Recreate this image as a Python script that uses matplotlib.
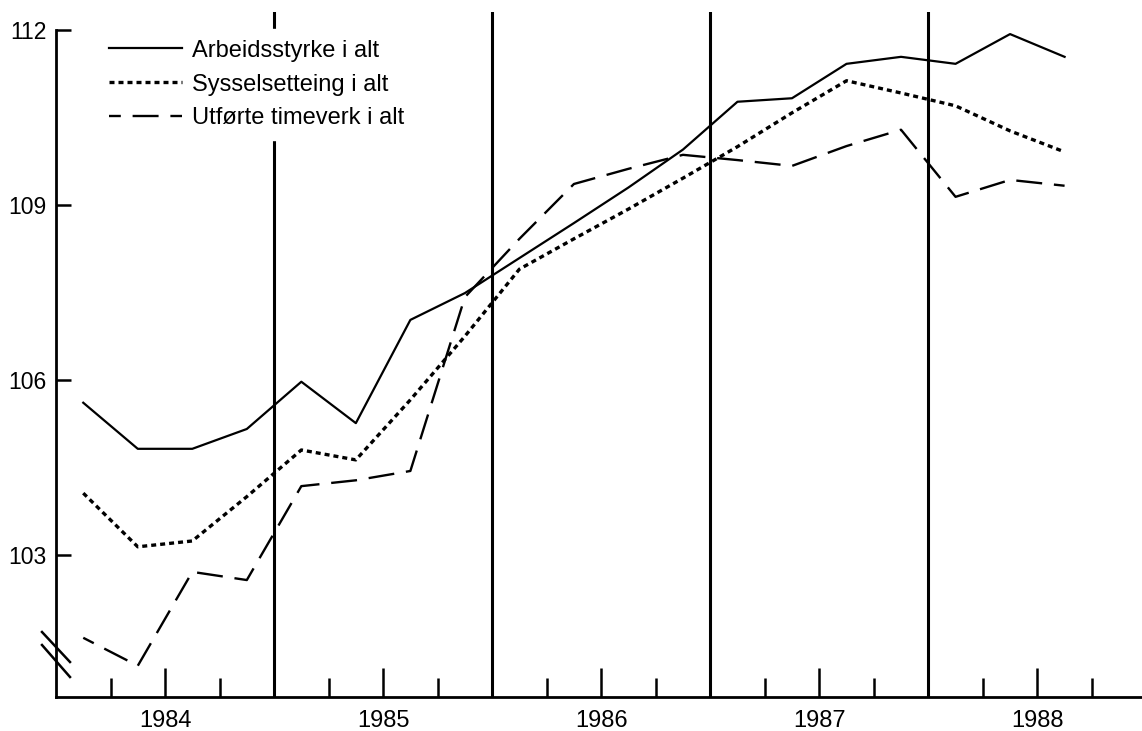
import matplotlib
matplotlib.use("Agg")
import numpy as np
import matplotlib.pyplot as plt
from matplotlib.lines import Line2D

plt.rcParams['font.family'] = ['Liberation Sans', 'DejaVu Sans']

# Quarterly index values, 1984 K1 - 1988 K3
years = [1984] * 4 + [1985] * 4 + [1986] * 4 + [1987] * 4 + [1988] * 3
quarter = [1, 2, 3, 4] * 4 + [1, 2, 3]

arbeidsstyrke = [105.61, 104.82, 104.82, 105.16, 105.97, 105.26, 107.03, 107.49,
                 108.09, 108.69, 109.3, 109.95, 110.77, 110.83, 111.42, 111.54,
                 111.42, 111.93, 111.54]
sysselsetting = [104.06, 103.14, 103.24, 104.0, 104.8, 104.63, 105.66, 106.75,
                 107.9, 108.42, 108.93, 109.46, 110.0, 110.58, 111.13, 110.92,
                 110.7, 110.27, 109.91]
timeverk = [101.58, 101.1, 102.71, 102.57, 104.18, 104.28, 104.44, 107.42,
            108.42, 109.36, 109.62, 109.86, 109.77, 109.67, 110.01, 110.29,
            109.14, 109.43, 109.33]

labels = ['Arbeidsstyrke i alt', 'Sysselsetteing i alt', 'Utførte timeverk i alt']
year_ticks = [1984, 1985, 1986, 1987, 1988]
y_ticks = [103, 106, 109, 112]

t = np.array(years) + (np.array(quarter) - 0.5) / 4

W, H = 1142, 731
fig = plt.figure(figsize=(W / 100, H / 100), dpi=100)
ax = fig.add_axes([56 / W, 1 - 697 / H, 1086 / W, 685 / H])

ax.plot(t, arbeidsstyrke, color='black', lw=1.6, label=labels[0])
ax.plot(t, sysselsetting, color='black', lw=2.4, linestyle=(0, (1.5, 1.2)),
        dash_capstyle='butt', label=labels[1])
ax.plot(t, timeverk, color='black', lw=1.7, linestyle=(6, (11, 5)),
        dash_capstyle='butt', label=labels[2])

# year separators
for yr in year_ticks[1:]:
    ax.axvline(yr, color='black', lw=2.2, zorder=1)

ylo = 112 - (697 - 30) / 58.33
ax.set_xlim(1984, 1988.98)
ax.set_ylim(ylo, 112 + 18 / 58.33)

for s in ['top', 'right']:
    ax.spines[s].set_visible(False)
ax.spines['left'].set_bounds(ylo, 112)
ax.spines['left'].set_linewidth(2)
ax.spines['bottom'].set_linewidth(2)

ax.set_xticks([y + 0.5 for y in year_ticks])
ax.set_xticklabels([str(y) for y in year_ticks])
ax.set_xticks([y + q for y in year_ticks for q in (0.25, 0.75)], minor=True)
ax.tick_params(axis='x', which='major', direction='in', length=21, width=1.8,
               labelsize=17, pad=9.5)
ax.tick_params(axis='x', which='minor', direction='in', length=13.5, width=1.8)
ax.set_yticks(y_ticks)
ax.set_yticklabels([str(v) for v in y_ticks])
ax.tick_params(axis='y', direction='in', length=11, width=1.8, labelsize=16.5, pad=7)

leg = ax.legend(loc='upper left', bbox_to_anchor=(0.0387, 0.975), fontsize=17,
                frameon=True, fancybox=False, framealpha=1, edgecolor='white',
                borderpad=0.45, borderaxespad=0, handlelength=3.1,
                handletextpad=0.45, labelspacing=0.5)
leg.set_zorder(5)

# axis break marks
for y0, y1 in [(632, 662), (645, 677)]:
    fig.add_artist(Line2D([42 / W, 70 / W], [1 - y0 / H, 1 - y1 / H],
                          color='black', lw=1.8))

fig.savefig('out.png', dpi=100, facecolor='white')
